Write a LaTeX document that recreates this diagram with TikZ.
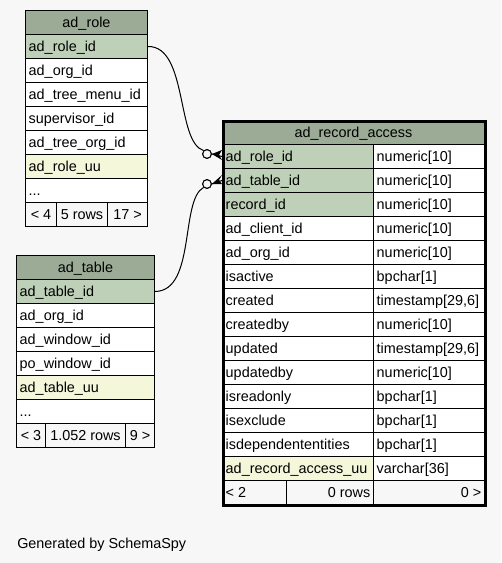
\documentclass[tikz,border=0pt]{standalone}
\usepackage{fontspec}
\setmainfont{Liberation Sans}
\definecolor{bg}{HTML}{F7F7F7}
\definecolor{hdr}{HTML}{9BAB96}
\definecolor{pk}{HTML}{BED1B8}
\definecolor{uu}{HTML}{F4F7DA}
\tikzset{
  cell/.style={draw=black, line width=0.75pt, rectangle, inner sep=0pt, minimum height=18pt, anchor=north west},
  txt/.style={inner sep=0pt, font=\fontsize{10.8}{12}\selectfont, text=black},
  circ/.style={circle, draw=black, line width=0.75pt, fill=bg, minimum size=6.5pt, inner sep=0pt},
  conn/.style={draw=black, line width=0.75pt},
  frame/.style={draw=black, line width=2.25pt, rectangle, inner sep=0pt, anchor=north west}
}
\newcommand\cL[6]{\node[cell,fill=#5,minimum width=#4] (#1) at (#2,#3) {};
  \node[txt,anchor=base west] at ([xshift=2.6pt,yshift=-3.9pt]#1.west) {#6};}
\newcommand\cC[6]{\node[cell,fill=#5,minimum width=#4] (#1) at (#2,#3) {};
  \node[txt,anchor=base] at ([yshift=-3.9pt]#1.center) {#6};}
\newcommand\cR[6]{\node[cell,fill=#5,minimum width=#4] (#1) at (#2,#3) {};
  \node[txt,anchor=base east] at ([xshift=-2.6pt,yshift=-3.9pt]#1.east) {#6};}
\begin{document}
\begin{tikzpicture}[x=0.75pt,y=-0.75pt]
\fill[bg] (0,0) rectangle (501,563);
\useasboundingbox (0,0) rectangle (501,563);

% ad_role
\cC{rh}{25}{10}{91.5pt}{hdr}{ad\_role}
\cL{r1}{25}{34}{91.5pt}{pk}{ad\_role\_id}
\cL{r2}{25}{58}{91.5pt}{white}{ad\_org\_id}
\cL{r3}{25}{82}{91.5pt}{white}{ad\_tree\_menu\_id}
\cL{r4}{25}{106}{91.5pt}{white}{supervisor\_id}
\cL{r5}{25}{130}{91.5pt}{white}{ad\_tree\_org\_id}
\cL{r6}{25}{154}{91.5pt}{uu}{ad\_role\_uu}
\cL{r7}{25}{178}{91.5pt}{white}{...}
\cC{rf1}{25}{202}{23.25pt}{bg}{< 4}
\cC{rf2}{56}{202}{38.25pt}{bg}{5 rows}
\cC{rf3}{107}{202}{30pt}{bg}{17 >}

% ad_table
\cC{th}{16}{255}{103.5pt}{hdr}{ad\_table}
\cL{t1}{16}{279}{103.5pt}{pk}{ad\_table\_id}
\cL{t2}{16}{303}{103.5pt}{white}{ad\_org\_id}
\cL{t3}{16}{327}{103.5pt}{white}{ad\_window\_id}
\cL{t4}{16}{351}{103.5pt}{white}{po\_window\_id}
\cL{t5}{16}{375}{103.5pt}{uu}{ad\_table\_uu}
\cL{t6}{16}{399}{103.5pt}{white}{...}
\cC{tf1}{16}{423}{21.75pt}{bg}{< 3}
\cC{tf2}{45}{423}{60pt}{bg}{1.052 rows}
\cC{tf3}{125}{423}{21.75pt}{bg}{9 >}

% ad_record_access
\cC{mh}{222}{120}{196.5pt}{hdr}{ad\_record\_access}
\foreach \n/\t/\f [count=\i from 0] in {
  ad\_role\_id/numeric[10]/pk,
  ad\_table\_id/numeric[10]/pk,
  record\_id/numeric[10]/pk,
  ad\_client\_id/numeric[10]/white,
  ad\_org\_id/numeric[10]/white,
  isactive/bpchar[1]/white,
  created/{timestamp[29,6]}/white,
  createdby/numeric[10]/white,
  updated/{timestamp[29,6]}/white,
  updatedby/numeric[10]/white,
  isreadonly/bpchar[1]/white,
  isexclude/bpchar[1]/white,
  isdependententities/bpchar[1]/white,
  ad\_record\_access\_uu/varchar[36]/uu}{
  \cL{m\i-a}{222}{144+24*\i}{113.25pt}{\f}{\n}
  \cL{m\i-b}{373}{144+24*\i}{83.25pt}{white}{\t}
}
\cL{mf1}{222}{480}{48pt}{bg}{< 2}
\cR{mf2}{286}{480}{65.25pt}{bg}{0 rows}
\cR{mf3}{373}{480}{83.25pt}{bg}{0 >}
\node[frame,minimum width=196.5pt,minimum height=288pt] (mframe) at (222,120) {};

% connectors
\node[circ] (c1) at (207,154) {};
\node[circ] (c2) at (207,184) {};
\draw[conn] (r1.east) .. controls (188,46) and (176,142) .. (c1.north west);
\draw[conn] (t1.east) .. controls (196,291) and (180,200) .. (c2.south west);
\node[circ] at (c1) {};
\node[circ] at (c2) {};
\fill[black] (c1.east) -- (222,150) -- (219,155) -- (222,160) -- cycle;
\draw[conn] (c1.east) -- (m0-a.west);
\fill[black] (c2.east) -- (222,175) -- (219,180) -- (222,184) -- cycle;
\draw[conn] (c2.east) -- (m1-a.west);

\node[txt,anchor=base west] (gen) at (17,548) {Generated by SchemaSpy};
\end{tikzpicture}
\end{document}
